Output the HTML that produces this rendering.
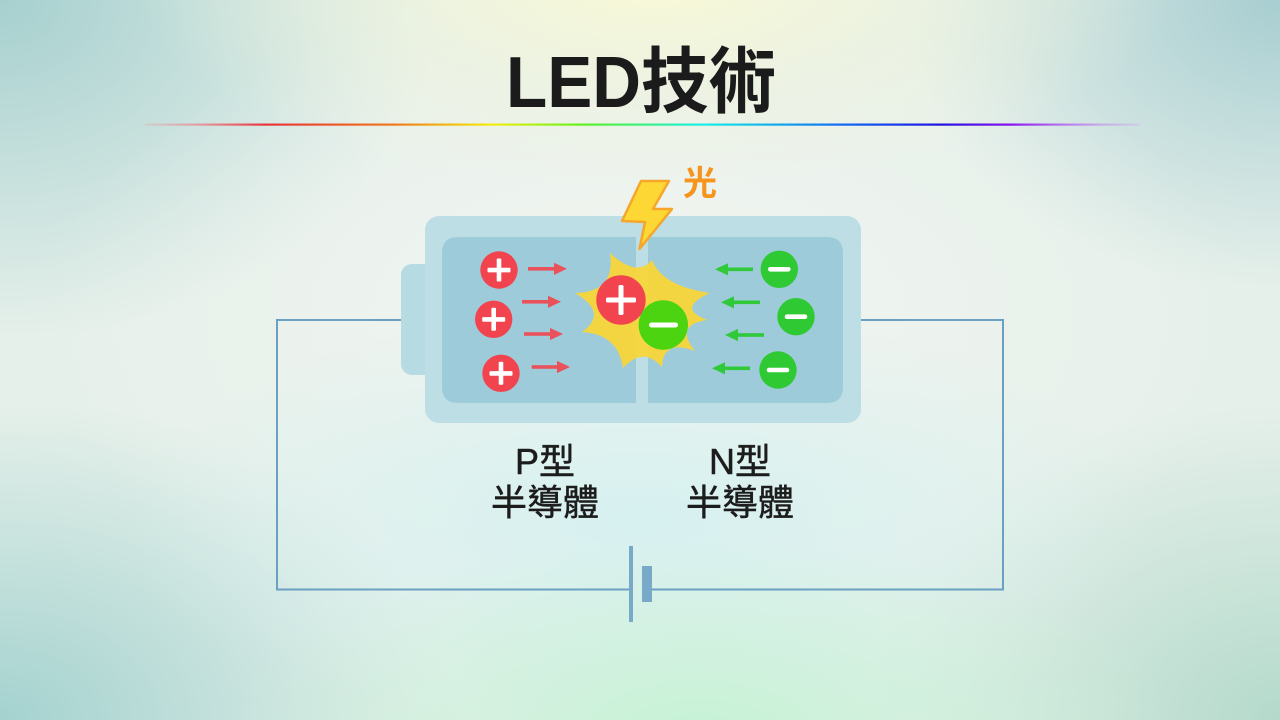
<!DOCTYPE html>
<html><head><meta charset="utf-8">
<style>
html,body{margin:0;padding:0;}
body{width:1280px;height:720px;overflow:hidden;position:relative;
background:
 radial-gradient(520px 210px at 655px -20px, rgba(249,249,214,1) 0%, rgba(240,244,220,0.6) 50%, rgba(240,244,220,0) 100%),
 radial-gradient(480px 190px at 700px 730px, rgba(198,242,214,1) 0%, rgba(198,242,214,0) 100%),
 radial-gradient(520px 210px at 640px 520px, rgba(214,241,240,1) 0%, rgba(214,241,240,0) 100%),
 radial-gradient(600px 330px at 640px 320px, rgba(242,245,241,1) 0%, rgba(242,245,241,0) 100%),
 radial-gradient(440px 340px at 0px 0px, rgba(166,208,207,1) 0%, rgba(166,208,207,0) 100%),
 radial-gradient(380px 290px at 1280px 0px, rgba(168,206,209,1) 0%, rgba(168,206,209,0) 100%),
 radial-gradient(460px 320px at 0px 720px, rgba(164,210,207,1) 0%, rgba(164,210,207,0) 100%),
 radial-gradient(420px 320px at 1280px 720px, rgba(180,218,203,1) 0%, rgba(180,218,203,0) 100%),
 #e6f0ea;}
svg{position:absolute;left:0;top:0;}
</style></head>
<body>
<svg width="1280" height="720" viewBox="0 0 1280 720" xmlns="http://www.w3.org/2000/svg">
<defs>
<linearGradient id="rb" x1="145" y1="0" x2="1140" y2="0" gradientUnits="userSpaceOnUse">
<stop offset="0" stop-color="#f0a0a8" stop-opacity="0.3"/>
<stop offset="0.12" stop-color="#e8323a"/>
<stop offset="0.25" stop-color="#f07a1e"/>
<stop offset="0.35" stop-color="#f2ee10"/>
<stop offset="0.44" stop-color="#60f020"/>
<stop offset="0.56" stop-color="#18f0e8"/>
<stop offset="0.71" stop-color="#1060f0"/>
<stop offset="0.80" stop-color="#2010e0"/>
<stop offset="0.87" stop-color="#8a10f0"/>
<stop offset="1" stop-color="#d0a0f0" stop-opacity="0.3"/>
</linearGradient>
</defs>

<!-- Title -->
<text x="641" y="107" text-anchor="middle" font-family="'Liberation Sans','Noto Sans CJK TC',sans-serif" font-weight="bold" font-size="72" fill="#1b1b1b" textLength="270" lengthAdjust="spacingAndGlyphs">LED技術</text>
<rect x="145" y="123.5" width="995" height="2.2" fill="url(#rb)"/>

<!-- circuit wire -->
<path d="M410,320 H277 V589.5 H630 M652,589.5 H1003 V320 H850" fill="none" stroke="#6aa0c2" stroke-width="2"/>
<!-- battery symbol -->
<rect x="629" y="546" width="4" height="76" fill="#78a9c9"/>
<rect x="642" y="566" width="10" height="36" fill="#78a9c9"/>

<!-- Battery body -->
<rect x="401" y="264" width="50" height="111" rx="11" fill="#b7dbe3"/>
<rect x="425" y="216" width="436" height="207" rx="14" fill="#bedee5"/>
<path d="M458,237 H636 V403 H458 Q442,403 442,387 V253 Q442,237 458,237 Z" fill="#9ecbd9"/>
<path d="M648,237 H827 Q843,237 843,253 V387 Q843,403 827,403 H648 Z" fill="#9ecbd9"/>

<!-- starburst -->
<path d="M610,253 Q637,278 652,260 Q662,286 710,293 Q676,308 707,320 Q674,325 695,351 Q663,339 662,367 Q643,346 623,368 Q618,334 582,332 Q609,313 575,293 Q616,292 610,253 Z" fill="#f8d53a" opacity="0.95"/>

<!-- lightning -->
<polygon points="641,181 669,181 653,209 672,209 639.5,249 645,222 622,221" fill="#fdd835" stroke="#f6a62a" stroke-width="2.5" stroke-linejoin="round"/>
<text x="700" y="195" text-anchor="middle" font-family="'Liberation Sans','Noto Sans CJK TC',sans-serif" font-weight="bold" font-size="34" fill="#f7941d">光</text>

<!-- big particles -->
<circle cx="621" cy="300" r="24.7" fill="#f2444f"/>
<rect x="606" y="297.5" width="30" height="5" rx="1.5" fill="#fff"/>
<rect x="618.5" y="285" width="5" height="30" rx="1.5" fill="#fff"/>
<circle cx="663.3" cy="325" r="24.7" fill="#4dd411"/>
<rect x="649" y="322.5" width="29" height="5" rx="2.5" fill="#fff"/>

<!-- small red + -->
<g fill="#f2444f">
<circle cx="499" cy="270" r="18.7"/>
<circle cx="493.7" cy="319.3" r="18.7"/>
<circle cx="501" cy="373.3" r="18.7"/>
</g>
<g fill="#fff">
<rect x="487.5" y="267.8" width="23" height="4.6" rx="1"/><rect x="496.7" y="258.5" width="4.6" height="23" rx="1"/>
<rect x="482.2" y="317.1" width="23" height="4.6" rx="1"/><rect x="491.4" y="307.8" width="4.6" height="23" rx="1"/>
<rect x="489.5" y="371.1" width="23" height="4.6" rx="1"/><rect x="498.7" y="361.8" width="4.6" height="23" rx="1"/>
</g>

<!-- small green - -->
<g fill="#2fca33">
<circle cx="779.3" cy="269.3" r="18.7"/>
<circle cx="796" cy="316.7" r="18.7"/>
<circle cx="778" cy="370" r="18.7"/>
</g>
<g fill="#fff">
<rect x="768" y="267" width="22.6" height="4.6" rx="2.3"/>
<rect x="784.7" y="314.4" width="22.6" height="4.6" rx="2.3"/>
<rect x="766.7" y="367.7" width="22.6" height="4.6" rx="2.3"/>
</g>

<!-- red arrows -->
<g fill="#e9525b">
<rect x="528" y="267" width="27" height="3.6"/><polygon points="554,262.7 567,268.8 554,274.9"/>
<rect x="522" y="300" width="27" height="3.6"/><polygon points="548,295.7 561,301.8 548,307.9"/>
<rect x="524" y="332.2" width="27" height="3.6"/><polygon points="550,327.9 563,334 550,340.1"/>
<rect x="531.7" y="365.2" width="27" height="3.6"/><polygon points="557,360.9 570,367 557,373.1"/>
</g>
<!-- green arrows -->
<g fill="#2fc93a">
<rect x="726" y="267.5" width="27" height="3.6"/><polygon points="728,263.2 715,269.3 728,275.4"/>
<rect x="733" y="300.5" width="27" height="3.6"/><polygon points="734,296.2 721,302.3 734,308.4"/>
<rect x="737" y="333.2" width="27" height="3.6"/><polygon points="738,328.9 725,335 738,341.1"/>
<rect x="723" y="366.5" width="27" height="3.6"/><polygon points="725,362.2 712,368.3 725,374.4"/>
</g>

<!-- labels -->
<g font-family="'Liberation Sans','Noto Sans CJK TC',sans-serif" font-size="36" fill="#1c1c1c" text-anchor="middle" stroke="#1c1c1c" stroke-width="0.5">
<text x="545" y="474">P型</text>
<text x="545" y="515">半導體</text>
<text x="740" y="474">N型</text>
<text x="740" y="515">半導體</text>
</g>
</svg>
</body></html>
